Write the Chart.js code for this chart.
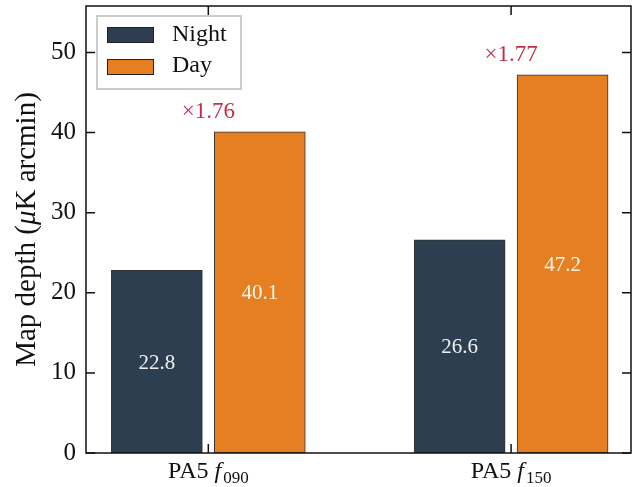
<!DOCTYPE html>
<html>
<head>
<meta charset="utf-8">
<script src="https://cdn.jsdelivr.net/npm/chart.js@4"></script>
<style>html,body{margin:0;padding:0;background:#fff;}</style>
</head>
<body>
<canvas id="c" width="632" height="487"></canvas>
<script>
// Map depth per array/band, night vs day observations
const categoryNames = ['PA5', 'PA5'];
const bandSubscripts = ['090', '150'];
const seriesNames = ['Night', 'Day'];
const nightDepth = [22.8, 26.6];
const dayDepth = [40.1, 47.2];
const ratioLabels = ['×1.76', '×1.77'];
const yTickValues = [0, 10, 20, 30, 40, 50];

const SERIF = '"Liberation Serif", "Times New Roman", serif';
const NIGHT_COLOR = '#2c3e50';
const DAY_COLOR = '#e67e22';
const RATIO_COLOR = '#c0304a';
const GROUP_OFFSET = 0.17;

const barPoints = (values, offset) => values.map((v, i) => ({ x: i + offset, y: v }));

function centeredText(ctx, text, x, y) {
  const m = ctx.measureText(text);
  const h = m.actualBoundingBoxAscent - m.actualBoundingBoxDescent;
  ctx.fillText(text, x, y + h / 2);
}

const decorations = {
  id: 'decorations',
  afterDraw(chart) {
    const ctx = chart.ctx;
    const { left, right, top, bottom } = chart.chartArea;
    const xs = chart.scales.x, ys = chart.scales.y;
    ctx.save();

    // value labels inside bars
    ctx.fillStyle = 'rgba(255,255,255,0.92)';
    ctx.font = '21px ' + SERIF;
    ctx.textAlign = 'center';
    [nightDepth, dayDepth].forEach((vals, s) => {
      const off = s === 0 ? -GROUP_OFFSET : GROUP_OFFSET;
      vals.forEach((v, i) => {
        centeredText(ctx, v.toFixed(1), xs.getPixelForValue(i + off), ys.getPixelForValue(v / 2));
      });
    });

    // day/night ratio above each group
    ctx.fillStyle = RATIO_COLOR;
    ctx.font = '23px ' + SERIF;
    ctx.textBaseline = 'alphabetic';
    ratioLabels.forEach((t, i) => {
      ctx.fillText(t, xs.getPixelForValue(i), ys.getPixelForValue(dayDepth[i] + 1.7));
    });

    // frame
    ctx.strokeStyle = '#111';
    ctx.lineWidth = 1.5;
    ctx.strokeRect(left, top, right - left, bottom - top);

    // inward ticks
    const TL = 9;
    ctx.beginPath();
    yTickValues.forEach(v => {
      const y = ys.getPixelForValue(v);
      ctx.moveTo(left, y); ctx.lineTo(left + TL, y);
      ctx.moveTo(right, y); ctx.lineTo(right - TL, y);
    });
    categoryNames.forEach((c, i) => {
      const x = xs.getPixelForValue(i);
      ctx.moveTo(x, top); ctx.lineTo(x, top + TL);
      ctx.moveTo(x, bottom); ctx.lineTo(x, bottom - TL);
    });
    ctx.stroke();

    // category labels: "PA5 f_band"
    ctx.fillStyle = '#111';
    ctx.textAlign = 'left';
    categoryNames.forEach((name, i) => {
      const main = name + ' ';
      ctx.font = '24px ' + SERIF;
      const w1 = ctx.measureText(main).width;
      ctx.font = 'italic 24px ' + SERIF;
      const w2 = ctx.measureText('f').width + 2;
      ctx.font = '17px ' + SERIF;
      const w3 = ctx.measureText(bandSubscripts[i]).width;
      let x = xs.getPixelForValue(i) - (w1 + w2 + w3) / 2;
      const base = 478;
      ctx.font = '24px ' + SERIF; ctx.fillText(main, x, base); x += w1;
      ctx.font = 'italic 24px ' + SERIF; ctx.fillText('f', x, base); x += w2;
      ctx.font = '17px ' + SERIF; ctx.fillText(bandSubscripts[i], x, base + 5);
    });

    // y-axis title with italic mu
    ctx.save();
    ctx.translate(35, (top + bottom) / 2);
    ctx.rotate(-Math.PI / 2);
    const parts = [['Map depth (', ''], ['μ', 'italic '], ['K arcmin)', '']];
    let total = 0;
    parts.forEach(p => { ctx.font = p[1] + '29px ' + SERIF; total += ctx.measureText(p[0]).width; });
    let tx = -total / 2;
    parts.forEach(p => {
      ctx.font = p[1] + '29px ' + SERIF;
      ctx.fillText(p[0], tx, 0);
      tx += ctx.measureText(p[0]).width;
    });
    ctx.restore();

    // legend
    const lx = left + 11, ly = top + 10;
    ctx.fillStyle = 'rgba(255,255,255,0.85)';
    ctx.fillRect(lx, ly, 144, 73);
    ctx.strokeStyle = '#cccccc';
    ctx.lineWidth = 2;
    ctx.strokeRect(lx, ly, 144, 73);
    [NIGHT_COLOR, DAY_COLOR].forEach((col, k) => {
      const py = ly + 11 + k * 32;
      ctx.fillStyle = col;
      ctx.fillRect(lx + 10, py, 47, 16);
      ctx.strokeStyle = '#222';
      ctx.lineWidth = 1;
      ctx.strokeRect(lx + 10.5, py + 0.5, 46, 15);
      ctx.fillStyle = '#111';
      ctx.font = '24px ' + SERIF;
      ctx.textAlign = 'left';
      centeredText(ctx, seriesNames[k], lx + 75, py + 8);
    });

    ctx.restore();
  }
};

new Chart(document.getElementById('c'), {
  type: 'bar',
  data: {
    datasets: [
      { label: seriesNames[0], data: barPoints(nightDepth, -GROUP_OFFSET), backgroundColor: NIGHT_COLOR },
      { label: seriesNames[1], data: barPoints(dayDepth, GROUP_OFFSET), backgroundColor: DAY_COLOR }
    ]
  },
  options: {
    responsive: false,
    animation: false,
    layout: { padding: { top: 6, right: 1, left: 0, bottom: 0 } },
    datasets: {
      bar: { grouped: false, barThickness: 91, borderWidth: 1, borderColor: '#333', borderSkipped: false }
    },
    plugins: { legend: { display: false }, tooltip: { enabled: false } },
    scales: {
      x: {
        type: 'linear', min: -0.404, max: 1.396, offset: false,
        grid: { display: false, drawTicks: false },
        border: { display: false },
        ticks: { display: false },
        afterFit: s => { s.height = 34; }
      },
      y: {
        min: 0, max: 55.8,
        grid: { display: false, drawTicks: false },
        border: { display: false },
        afterBuildTicks: s => { s.ticks = yTickValues.map(v => ({ value: v })); },
        ticks: { font: { family: SERIF, size: 25 }, color: '#111', padding: 10 },
        afterFit: s => { s.width = 86; s.paddingTop = 0; s.paddingBottom = 0; }
      }
    }
  },
  plugins: [decorations]
});
</script>
</body>
</html>
